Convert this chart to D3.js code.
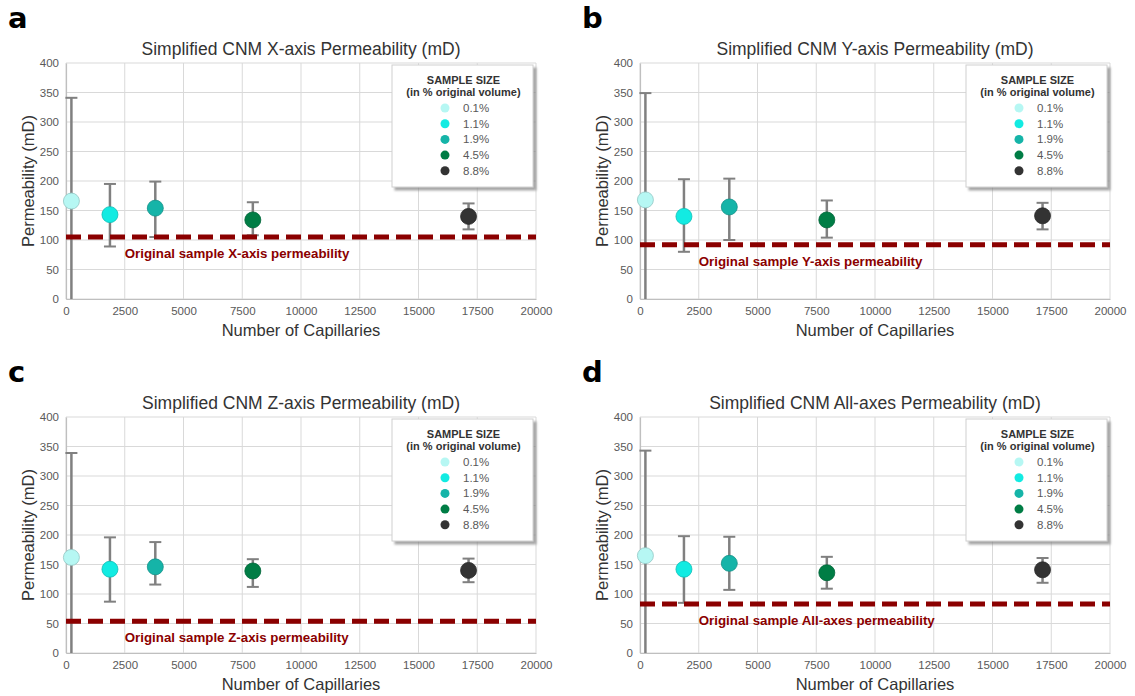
<!DOCTYPE html>
<html>
<head>
<meta charset="utf-8">
<script src="https://cdn.jsdelivr.net/npm/d3@7"></script>
<style>
  body { margin: 0; background: #fff; }
  svg { display: block; font-family: "Liberation Sans", Arial, sans-serif; }
</style>
</head>
<body>
<div id="chart"></div>
<script>
// Shared x positions (number of capillaries) and sample sizes
const capillaries = [230, 1870, 3800, 7950, 17130];
const sampleSizes = ['0.1%', '1.1%', '1.9%', '4.5%', '8.8%'];
const sizeColors = ['#b6f7f3', '#12ebe2', '#15b4a8', '#007d45', '#333333'];

const xTicks = [0, 2500, 5000, 7500, 10000, 12500, 15000, 17500, 20000];
const yTicks = [0, 50, 100, 150, 200, 250, 300, 350, 400];

// Panel a - X axis
const xPerm = [166, 143, 154, 134, 140];
const xLow = [0, 89, 105, 108, 118];
const xHigh = [341, 195, 199, 164, 162];
const xOriginal = 105;

// Panel b - Y axis
const yPerm = [168, 140, 156, 134, 141];
const yLow = [0, 80, 100, 104, 118];
const yHigh = [349, 203, 204, 167, 163];
const yOriginal = 92;

// Panel c - Z axis
const zPerm = [162, 142, 146, 139, 140];
const zLow = [0, 87, 116, 112, 120];
const zHigh = [339, 196, 188, 159, 160];
const zOriginal = 54;

// Panel d - all axes
const allPerm = [165, 142, 152, 136, 141];
const allLow = [0, 85, 107, 109, 119];
const allHigh = [343, 198, 197, 163, 161];
const allOriginal = 83;

const panels = [
  { letter: 'a', name: 'X-axis', perm: xPerm, low: xLow, high: xHigh, original: xOriginal, left: 66, top: 63 },
  { letter: 'b', name: 'Y-axis', perm: yPerm, low: yLow, high: yHigh, original: yOriginal, left: 640, top: 63 },
  { letter: 'c', name: 'Z-axis', perm: zPerm, low: zLow, high: zHigh, original: zOriginal, left: 66, top: 417 },
  { letter: 'd', name: 'All-axes', perm: allPerm, low: allLow, high: allHigh, original: allOriginal, left: 640, top: 417 }
];

const W = 1135, H = 696;
const plotW = 470, plotH = 236;

const svg = d3.select('#chart').append('svg')
  .attr('width', W)
  .attr('height', H);

const defs = svg.append('defs');
const shadow = defs.append('filter').attr('id', 'legend-shadow')
  .attr('x', '-10%').attr('y', '-10%').attr('width', '130%').attr('height', '130%');
shadow.append('feDropShadow')
  .attr('dx', 3).attr('dy', 3).attr('stdDeviation', 1.2)
  .attr('flood-color', '#808080').attr('flood-opacity', 0.7);

panels.forEach(drawPanel);

function drawPanel(p) {
  const x = d3.scaleLinear().domain([0, 20000]).range([0, plotW]);
  const y = d3.scaleLinear().domain([0, 400]).range([plotH, 0]);

  // Panel letter
  svg.append('text')
    .attr('x', p.left - 58)
    .attr('y', p.top - 35)
    .style('font-family', '"DejaVu Sans", sans-serif')
    .style('font-size', '29px')
    .style('font-weight', '700')
    .style('fill', '#000')
    .text(p.letter);

  const g = svg.append('g').attr('transform', `translate(${p.left},${p.top})`);

  // Title
  g.append('text')
    .attr('x', plotW / 2)
    .attr('y', -8)
    .attr('text-anchor', 'middle')
    .style('font-size', '17.5px')
    .style('fill', '#333')
    .text(`Simplified CNM ${p.name} Permeability (mD)`);

  // Grid lines
  g.selectAll('.hgrid')
    .data(yTicks)
    .enter().append('line')
    .attr('x1', 0).attr('x2', plotW)
    .attr('y1', d => y(d)).attr('y2', d => y(d))
    .style('stroke', '#d9d9d9')
    .style('stroke-width', 1);

  g.selectAll('.vgrid')
    .data(xTicks)
    .enter().append('line')
    .attr('x1', d => x(d)).attr('x2', d => x(d))
    .attr('y1', 0).attr('y2', plotH)
    .style('stroke', '#d9d9d9')
    .style('stroke-width', 1);

  // Axes
  const xAxis = g.append('g')
    .attr('transform', `translate(0,${plotH})`)
    .call(d3.axisBottom(x).tickValues(xTicks).tickFormat(d3.format('d')).tickSize(0).tickPadding(8));
  const yAxis = g.append('g')
    .call(d3.axisLeft(y).tickValues(yTicks).tickSize(0).tickPadding(7));

  [xAxis, yAxis].forEach(a => {
    a.select('.domain').style('stroke', '#bfbfbf').style('stroke-width', 1.2);
    a.selectAll('text')
      .style('font-family', '"Liberation Sans", Arial, sans-serif')
      .style('font-size', '11.5px')
      .style('fill', '#595959');
  });

  // Axis titles
  g.append('text')
    .attr('x', plotW / 2)
    .attr('y', plotH + 37)
    .attr('text-anchor', 'middle')
    .style('font-size', '16.5px')
    .style('fill', '#333')
    .text('Number of Capillaries');

  g.append('text')
    .attr('transform', `translate(-32,${plotH / 2}) rotate(-90)`)
    .attr('text-anchor', 'middle')
    .style('font-size', '16.5px')
    .style('fill', '#333')
    .text('Permeability (mD)');

  const rows = capillaries.map((c, i) => ({
    cap: c, perm: p.perm[i], low: p.low[i], high: p.high[i],
    size: sampleSizes[i], color: sizeColors[i]
  }));

  // Error bars
  const err = g.append('g');
  rows.forEach(d => {
    const cx = x(d.cap);
    err.append('line')
      .attr('x1', cx).attr('x2', cx)
      .attr('y1', y(d.low)).attr('y2', y(d.high))
      .style('stroke', '#808080').style('stroke-width', 2.5);
    [d.low, d.high].forEach(v => {
      if (v <= 0) return;
      err.append('line')
        .attr('x1', cx - 6).attr('x2', cx + 6)
        .attr('y1', y(v)).attr('y2', y(v))
        .style('stroke', '#808080').style('stroke-width', 2);
    });
  });

  // Original sample reference line
  g.append('line')
    .attr('x1', 0).attr('x2', plotW)
    .attr('y1', y(p.original)).attr('y2', y(p.original))
    .style('stroke', '#8b0000')
    .style('stroke-width', 5)
    .style('stroke-dasharray', '15,7');

  g.append('text')
    .attr('x', x(2500))
    .attr('y', y(p.original) + 21)
    .style('font-size', '13.3px')
    .style('font-weight', '700')
    .style('fill', '#8b0000')
    .text(`Original sample ${p.name} permeability`);

  // Markers
  g.selectAll('.pt')
    .data(rows)
    .enter().append('circle')
    .attr('cx', d => x(d.cap))
    .attr('cy', d => y(d.perm))
    .attr('r', 8)
    .style('fill', d => d.color)
    .style('stroke', d => d3.color(d.color).darker(0.6))
    .style('stroke-width', 0.8);

  // Legend
  const lx = plotW - 144, ly = 2, lw = 141, lh = 122;
  const leg = g.append('g').attr('transform', `translate(${lx},${ly})`);
  leg.append('rect')
    .attr('width', lw).attr('height', lh)
    .style('fill', '#fff')
    .style('stroke', '#d0d0d0')
    .style('stroke-width', 1)
    .attr('filter', 'url(#legend-shadow)');

  leg.append('text')
    .attr('x', lw / 2 + 1).attr('y', 19)
    .attr('text-anchor', 'middle')
    .style('font-size', '11px').style('font-weight', '700').style('fill', '#333')
    .text('SAMPLE SIZE');
  leg.append('text')
    .attr('x', lw / 2 + 1).attr('y', 31)
    .attr('text-anchor', 'middle')
    .style('font-size', '11px').style('font-weight', '700').style('fill', '#333')
    .text('(in % original volume)');

  const item = leg.selectAll('.item')
    .data(rows)
    .enter().append('g')
    .attr('transform', (d, i) => `translate(0,${43 + i * 15.7})`);
  item.append('circle')
    .attr('cx', 53).attr('cy', 0).attr('r', 4.5)
    .style('fill', d => d.color);
  item.append('text')
    .attr('x', 71).attr('y', 4)
    .style('font-size', '11.5px').style('fill', '#595959')
    .text(d => d.size);
}
</script>
</body>
</html>
